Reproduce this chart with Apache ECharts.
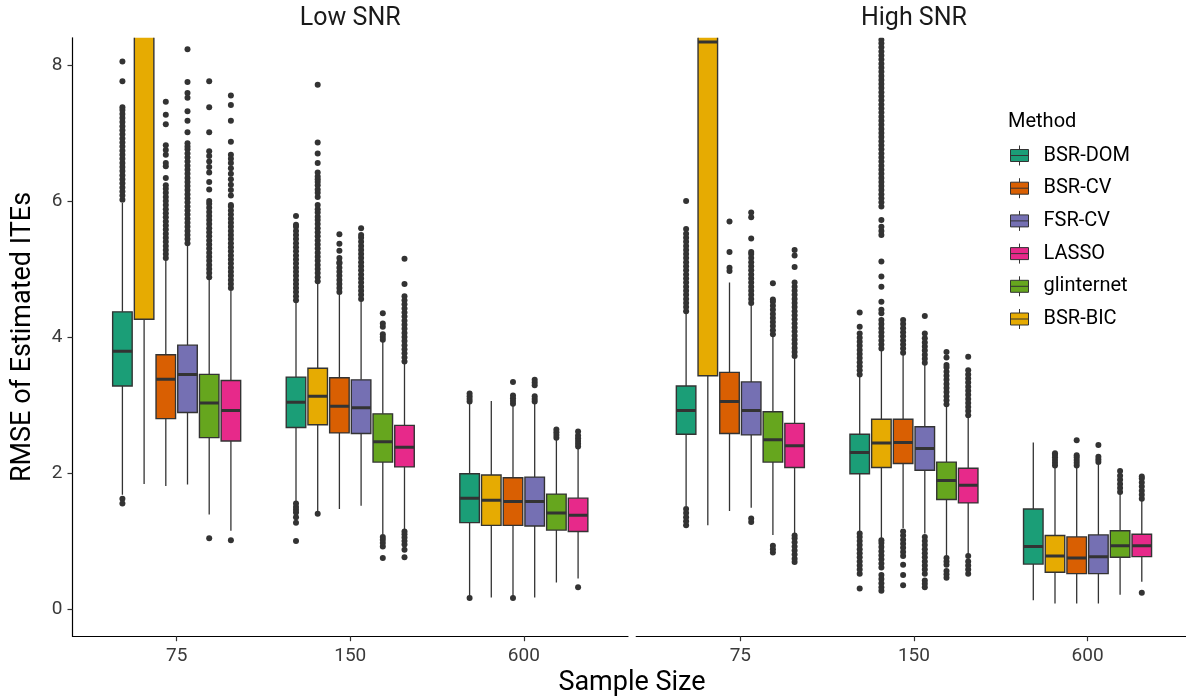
<!DOCTYPE html>
<html><head><meta charset="utf-8">
<script src="https://cdn.jsdelivr.net/npm/echarts@6/dist/echarts.min.js"></script>
<style>html,body{margin:0;padding:0;background:#fff}#chart{width:1186px;height:697px}</style>
</head><body><div id="chart"></div>
<script>
// ---------------- DATA ----------------
const panels = ["Low SNR", "High SNR"];
const sampleSizes = ["75", "150", "600"];
const methods = ["BSR-DOM", "BSR-BIC", "BSR-CV", "FSR-CV", "glinternet", "LASSO"];
const legendOrder = ["BSR-DOM", "BSR-CV", "FSR-CV", "LASSO", "glinternet", "BSR-BIC"];
const yTicks = [0, 2, 4, 6, 8];
const xTitle = "Sample Size";
const yTitle = "RMSE of Estimated ITEs";
const legendTitle = "Method";

// box stats per sample size: [lower whisker, Q1, median, Q3, upper whisker]
const low_DOM_box = [[1.68,3.28,3.79,4.37,5.97],[1.58,2.67,3.04,3.41,4.50],[0.18,1.27,1.63,1.99,3.02]];
const low_BIC_box = [[1.84,4.26,9.5,14,20],[1.44,2.71,3.13,3.54,4.79],[0.17,1.23,1.60,1.97,3.06]];
const low_CV_box  = [[1.81,2.80,3.38,3.74,5.13],[1.47,2.59,2.98,3.40,4.63],[0.18,1.23,1.58,1.93,2.99]];
const low_FSR_box = [[1.83,2.89,3.45,3.88,5.34],[1.52,2.58,2.96,3.37,4.53],[0.17,1.22,1.58,1.94,3.02]];
const low_GLI_box = [[1.39,2.52,3.03,3.45,4.85],[1.10,2.16,2.46,2.87,3.93],[0.39,1.16,1.41,1.69,2.49]];
const low_LAS_box = [[1.15,2.47,2.92,3.36,4.68],[1.17,2.09,2.38,2.70,3.61],[0.45,1.14,1.38,1.63,2.36]];

const high_DOM_box = [[1.51,2.57,2.92,3.28,4.35],[1.14,1.99,2.30,2.57,3.42],[0.13,0.66,0.92,1.47,2.45]];
const high_BIC_box = [[1.23,3.43,8.34,12,18],[1.04,2.08,2.44,2.79,3.80],[0.08,0.54,0.78,1.08,2.08]];
const high_CV_box  = [[1.44,2.58,3.05,3.48,4.80],[1.19,2.14,2.45,2.79,3.74],[0.08,0.52,0.75,1.06,2.08]];
const high_FSR_box = [[1.49,2.56,2.92,3.34,4.47],[1.11,2.04,2.36,2.68,3.59],[0.08,0.52,0.77,1.09,2.13]];
const high_GLI_box = [[1.09,2.16,2.49,2.90,4.01],[0.78,1.61,1.89,2.16,2.98],[0.21,0.76,0.93,1.15,1.69]];
const high_LAS_box = [[1.11,2.08,2.40,2.73,3.69],[0.81,1.56,1.82,2.07,2.82],[0.40,0.77,0.93,1.10,1.59]];

// outliers per sample size
const low_DOM_out = [
  [1.62,1.55,6.02,6.08,6.14,6.2,6.26,6.32,6.38,6.44,6.5,6.56,6.62,6.68,6.74,6.8,6.86,6.92,6.98,7.04,7.1,7.16,7.22,7.28,7.34,7.38,7.76,8.05],
  [1.0,1.27,1.35,1.42,1.46,1.5,1.55,4.54,4.6,4.66,4.72,4.78,4.84,4.9,4.96,5.02,5.08,5.14,5.2,5.26,5.32,5.38,5.44,5.5,5.56,5.62,5.65,5.78],
  [0.16,3.05,3.09,3.13,3.17]];
const low_BIC_out = [
  [],
  [1.40,4.82,4.88,4.94,5.0,5.06,5.12,5.18,5.24,5.3,5.36,5.42,5.48,5.54,5.6,5.66,5.72,5.77,5.83,5.88,5.94,6.06,6.12,6.17,6.23,6.28,6.32,6.36,6.42,6.56,6.7,6.86,7.71],
  []];
const low_CV_out = [
  [5.16,5.22,5.28,5.34,5.4,5.46,5.52,5.58,5.64,5.7,5.76,5.82,5.88,5.94,6.0,6.06,6.12,6.18,6.23,6.34,6.51,6.56,6.68,6.75,6.82,7.13,7.27,7.46],
  [4.66,4.72,4.78,4.84,4.9,4.96,5.02,5.08,5.1,5.16,5.27,5.37,5.51],
  [0.16,3.02,3.06,3.1,3.14,3.34]];
const low_FSR_out = [
  [5.38,5.44,5.5,5.56,5.62,5.68,5.74,5.8,5.86,5.92,5.98,6.04,6.1,6.16,6.22,6.28,6.34,6.4,6.46,6.52,6.58,6.64,6.7,6.76,6.8,6.85,7.01,7.18,7.32,7.52,7.59,7.75,8.23],
  [4.56,4.62,4.68,4.74,4.8,4.86,4.92,4.98,5.04,5.1,5.16,5.22,5.28,5.34,5.4,5.46,5.5,5.6],
  [3.05,3.09,3.13,3.29,3.33,3.37]];
const low_GLI_out = [
  [1.04,4.88,4.94,5.0,5.06,5.12,5.18,5.24,5.3,5.36,5.42,5.48,5.54,5.6,5.66,5.72,5.78,5.84,5.9,5.96,6.0,6.17,6.28,6.42,6.5,6.58,6.66,6.73,7.01,7.38,7.76],
  [0.75,0.92,0.97,1.02,1.06,3.96,4.0,4.04,4.15,4.2,4.35],
  [2.52,2.56,2.6,2.64]];
const low_LAS_out = [
  [1.01,4.72,4.78,4.84,4.9,4.96,5.02,5.08,5.14,5.2,5.26,5.32,5.38,5.44,5.5,5.56,5.62,5.68,5.74,5.8,5.86,5.92,5.94,6.08,6.16,6.24,6.32,6.4,6.48,6.56,6.62,6.68,6.87,7.18,7.41,7.55],
  [0.76,0.87,0.95,1.0,1.05,1.1,1.14,3.64,3.7,3.76,3.82,3.88,3.94,4.0,4.06,4.12,4.18,4.24,4.3,4.36,4.42,4.48,4.54,4.6,4.78,5.15],
  [0.32,2.39,2.43,2.47,2.51,2.55,2.61]];

const high_DOM_out = [
  [1.23,1.29,1.35,1.41,1.47,4.38,4.44,4.5,4.56,4.62,4.68,4.74,4.8,4.86,4.92,4.98,5.04,5.1,5.16,5.22,5.28,5.34,5.4,5.46,5.52,5.59,6.0],
  [0.30,0.52,0.58,0.64,0.7,0.76,0.82,0.88,0.94,1.0,1.06,1.11,3.45,3.51,3.57,3.63,3.69,3.75,3.81,3.87,3.93,3.99,4.05,4.15,4.36],
  []];
const high_BIC_out = [
  [],
  [0.27,0.32,0.38,0.44,0.5,0.61,0.67,0.73,0.79,0.85,0.91,0.97,1.01,3.83,3.89,3.95,4.01,4.07,4.13,4.19,4.25,4.35,4.4,4.52,4.74,4.89,5.11,5.5,5.56,5.62,5.72,5.92,5.98,6.04,6.1,6.16,6.22,6.28,6.34,6.4,6.46,6.52,6.58,6.64,6.7,6.76,6.82,6.88,6.94,7.0,7.06,7.12,7.18,7.24,7.3,7.36,7.42,7.48,7.54,7.6,7.66,7.72,7.78,7.84,7.9,7.96,8.02,8.08,8.14,8.2,8.26,8.32,8.37],
  [2.11,2.15,2.19,2.23,2.27,2.29]];
const high_CV_out = [
  [4.97,5.02,5.25,5.70],
  [0.35,0.5,0.65,0.78,0.84,0.9,0.96,1.02,1.08,1.14,3.77,3.83,3.89,3.95,4.01,4.07,4.13,4.19,4.25],
  [2.11,2.15,2.19,2.23,2.26,2.48]];
const high_FSR_out = [
  [1.28,1.33,4.5,4.56,4.62,4.68,4.74,4.8,4.86,4.92,4.98,5.04,5.1,5.16,5.22,5.25,5.45,5.76,5.83],
  [0.32,0.37,0.42,0.52,0.58,0.64,0.7,0.76,0.82,0.88,0.94,1.0,1.06,3.62,3.68,3.74,3.8,3.86,3.92,3.98,4.05,4.31],
  [2.16,2.2,2.24,2.41]];
const high_GLI_out = [
  [0.83,0.88,0.93,4.04,4.1,4.16,4.22,4.28,4.34,4.4,4.46,4.52,4.55,4.79],
  [0.46,0.51,0.56,0.65,0.7,0.75,3.01,3.07,3.13,3.19,3.25,3.31,3.37,3.43,3.49,3.55,3.59,3.7,3.78],
  [1.72,1.78,1.84,1.9,1.96,2.03]];
const high_LAS_out = [
  [0.69,0.74,0.8,0.86,0.92,0.98,1.04,1.08,3.72,3.78,3.84,3.9,3.96,4.02,4.08,4.14,4.2,4.26,4.32,4.38,4.44,4.5,4.56,4.62,4.68,4.74,4.8,5.03,5.2,5.28],
  [0.52,0.58,0.64,0.7,0.78,2.85,2.91,2.97,3.03,3.09,3.15,3.21,3.27,3.33,3.39,3.45,3.51,3.71],
  [0.24,1.62,1.68,1.74,1.8,1.86,1.92,1.95]];

// ---------------- STYLE ----------------
const colorOf = {"BSR-DOM":"#1B9E77","BSR-BIC":"#E6AB02","BSR-CV":"#D95F02","FSR-CV":"#7570B3","glinternet":"#66A61E","LASSO":"#E7298A"};
const FONT = "Roboto,'Liberation Sans',sans-serif";
const INK = "#333333";
const PANEL_LEFT = [72.5, 636.2], PANEL_W = 555.5, TOP = 37.8, H = 598.4;
const Y_MIN = -0.4, Y_MAX = 8.4;
const DODGE = 0.125, BOXW = 0.1125;

const boxes = [
  {"BSR-DOM":low_DOM_box,"BSR-BIC":low_BIC_box,"BSR-CV":low_CV_box,"FSR-CV":low_FSR_box,"glinternet":low_GLI_box,"LASSO":low_LAS_box},
  {"BSR-DOM":high_DOM_box,"BSR-BIC":high_BIC_box,"BSR-CV":high_CV_box,"FSR-CV":high_FSR_box,"glinternet":high_GLI_box,"LASSO":high_LAS_box}];
const outs = [
  {"BSR-DOM":low_DOM_out,"BSR-BIC":low_BIC_out,"BSR-CV":low_CV_out,"FSR-CV":low_FSR_out,"glinternet":low_GLI_out,"LASSO":low_LAS_out},
  {"BSR-DOM":high_DOM_out,"BSR-BIC":high_BIC_out,"BSR-CV":high_CV_out,"FSR-CV":high_FSR_out,"glinternet":high_GLI_out,"LASSO":high_LAS_out}];

function makeBox(j, color) {
  return function (params, api) {
    const x = api.value(0) + (j - 2.5) * DODGE;
    const lo = api.coord([x, api.value(1)]), q1 = api.coord([x, api.value(2)]);
    const md = api.coord([x, api.value(3)]), q3 = api.coord([x, api.value(4)]);
    const hi = api.coord([x, api.value(5)]);
    const xl = api.coord([x - BOXW / 2, 0])[0], xr = api.coord([x + BOXW / 2, 0])[0];
    return {type: 'group', children: [
      {type: 'line', shape: {x1: lo[0], y1: lo[1], x2: q1[0], y2: q1[1]}, style: {stroke: INK, lineWidth: 1.3}},
      {type: 'line', shape: {x1: q3[0], y1: q3[1], x2: hi[0], y2: hi[1]}, style: {stroke: INK, lineWidth: 1.3}},
      {type: 'rect', shape: {x: xl, y: q3[1], width: xr - xl, height: q1[1] - q3[1]}, style: {fill: color, stroke: INK, lineWidth: 1.4}},
      {type: 'line', shape: {x1: xl, y1: md[1], x2: xr, y2: md[1]}, style: {stroke: INK, lineWidth: 3}}
    ]};
  };
}
function makeOut(j) {
  return function (params, api) {
    const p = api.coord([api.value(0) + (j - 2.5) * DODGE, api.value(1)]);
    return {type: 'circle', shape: {cx: p[0], cy: p[1], r: 3}, style: {fill: INK}};
  };
}

const series = [];
panels.forEach((pn, pi) => {
  methods.forEach((m, j) => {
    series.push({
      type: 'custom', name: m, xAxisIndex: pi, yAxisIndex: pi, clip: true, z: 3,
      itemStyle: {color: colorOf[m]},
      data: sampleSizes.map((s, k) => [k + 1].concat(boxes[pi][m][k])),
      encode: {x: 0, y: [1, 2, 3, 4, 5]},
      renderItem: makeBox(j, colorOf[m])
    });
    const pts = [];
    sampleSizes.forEach((s, k) => outs[pi][m][k].forEach(v => pts.push([k + 1, v])));
    series.push({
      type: 'custom', name: m + ' outliers', xAxisIndex: pi, yAxisIndex: pi, clip: true, z: 2,
      data: pts, encode: {x: 0, y: 1}, renderItem: makeOut(j)
    });
  });
});

const grids = PANEL_LEFT.map(l => ({left: l, top: TOP, width: PANEL_W, height: H, outerBoundsMode: 'none', containLabel: false}));
const xAxes = PANEL_LEFT.map((l, i) => ({
  type: 'value', gridIndex: i, min: 0.4, max: 3.6,
  axisLine: {show: true, onZero: false, lineStyle: {color: '#000', width: 1.2}},
  axisTick: {show: true, customValues: [1, 2, 3], length: 5, lineStyle: {color: INK, width: 1.2}},
  axisLabel: {show: true, customValues: [1, 2, 3], formatter: v => sampleSizes[Math.round(v) - 1],
    fontFamily: FONT, fontSize: 19, color: '#3a3a3a', margin: 11},
  splitLine: {show: false}
}));
const yAxes = PANEL_LEFT.map((l, i) => ({
  type: 'value', gridIndex: i, min: Y_MIN, max: Y_MAX, show: i === 0,
  name: i === 0 ? yTitle : '', nameLocation: 'middle', nameGap: 36, nameRotate: 90,
  nameTextStyle: {fontFamily: FONT, fontSize: 27, color: '#000'},
  axisLine: {show: true, onZero: false, lineStyle: {color: '#000', width: 1.2}},
  axisTick: {show: true, customValues: yTicks, length: 5, lineStyle: {color: INK, width: 1.2}},
  axisLabel: {show: true, customValues: yTicks, fontFamily: FONT, fontSize: 19, color: '#3a3a3a', margin: 10},
  splitLine: {show: false}
}));

const option = {
  animation: false,
  backgroundColor: '#fff',
  title: [
    {text: panels[0], left: PANEL_LEFT[0] + PANEL_W / 2, top: 6, padding: 0, textAlign: 'center',
      textStyle: {fontFamily: FONT, fontSize: 25, fontWeight: 'normal', color: '#1a1a1a'}},
    {text: panels[1], left: PANEL_LEFT[1] + PANEL_W / 2, top: 6, padding: 0, textAlign: 'center',
      textStyle: {fontFamily: FONT, fontSize: 25, fontWeight: 'normal', color: '#1a1a1a'}},
    {text: xTitle, left: 632, top: 670, padding: 0, textAlign: 'center',
      textStyle: {fontFamily: FONT, fontSize: 27, fontWeight: 'normal', color: '#000'}},
    {text: legendTitle, left: 1008, top: 112, padding: 0,
      textStyle: {fontFamily: FONT, fontSize: 20, fontWeight: 'normal', color: '#000'}}
  ],
  legend: {
    data: legendOrder, orient: 'vertical', left: 1010, top: 145, padding: 0,
    itemWidth: 18, itemHeight: 20, itemGap: 11.7,
    icon: 'path://M0,4H18V16H0Z M0,10H18 M9,0V4 M9,16V20',
    itemStyle: {borderColor: INK, borderWidth: 1},
    textStyle: {fontFamily: FONT, fontSize: 20, color: '#000', padding: [0, 0, 0, 10], lineHeight: 20}
  },
  grid: grids,
  xAxis: xAxes,
  yAxis: yAxes,
  series: series
};
const chart = echarts.init(document.getElementById('chart'), null, {renderer: 'canvas'});
chart.setOption(option);
</script></body></html>
